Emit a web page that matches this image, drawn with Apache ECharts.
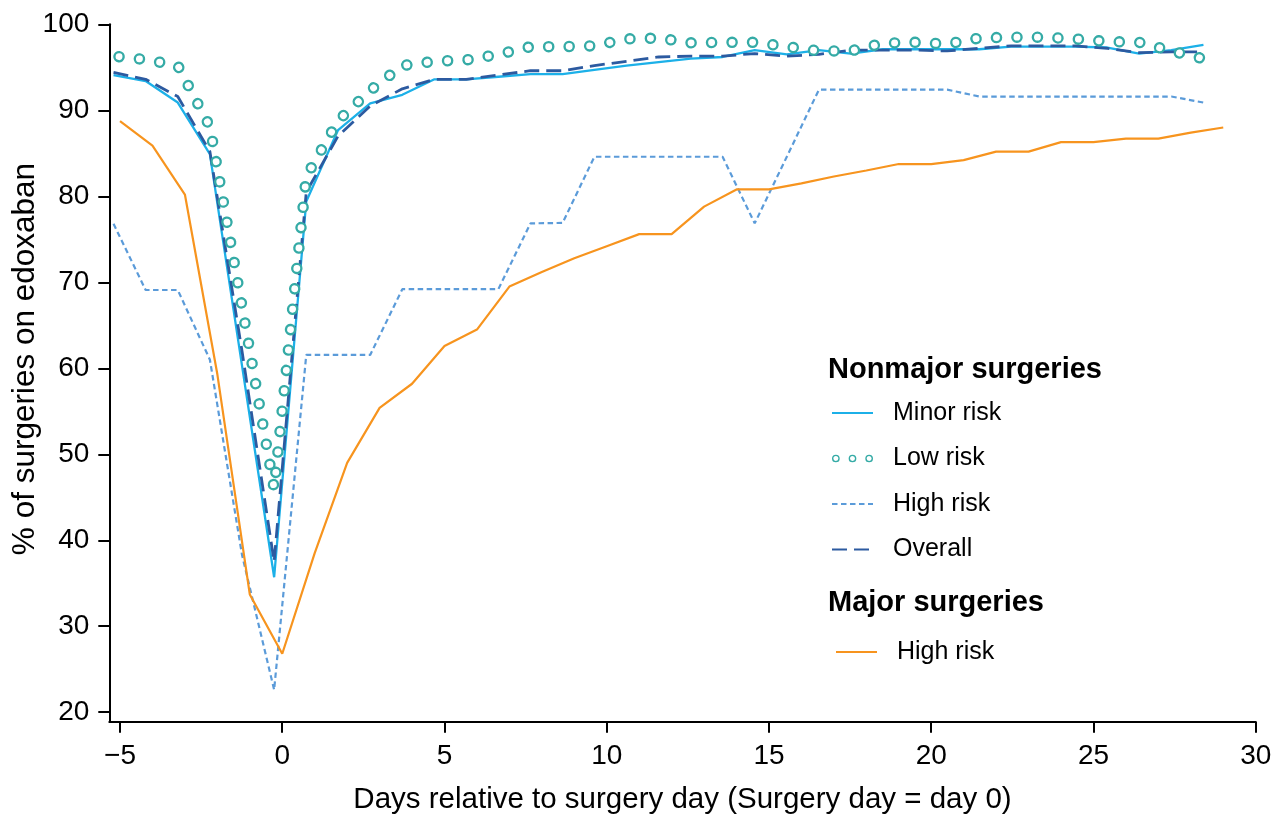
<!DOCTYPE html>
<html>
<head>
<meta charset="utf-8">
<script src="https://cdn.jsdelivr.net/npm/echarts@6/dist/echarts.min.js"></script>
<style>
  html, body { margin: 0; padding: 0; background: #fff; }
  #main { width: 1279px; height: 814px; }
</style>
</head>
<body>
<div id="main"></div>
<script>
// days for the nonmajor series (sampled slightly off whole days)
var nonmajorDays = [-5.2, -4.21, -3.22, -2.23, -1.24, -0.25, 0.74, 1.72, 2.71, 3.70, 4.69, 5.67, 6.66, 7.65, 8.64,
    9.62, 10.61, 11.60, 12.59, 13.57, 14.56, 15.55, 16.54, 17.52, 18.51, 19.50, 20.49, 21.48, 22.46, 23.45,
    24.44, 25.43, 26.41, 27.40, 28.39];
var minorRisk = [94.1, 93.4, 90.9, 84.9, 60.3, 35.7, 79.4, 87.7, 90.8, 91.8, 93.6, 93.6, 93.9, 94.2, 94.2,
    94.7, 95.2, 95.6, 96.0, 96.2, 97.0, 96.5, 97.0, 96.6, 97.1, 97.1, 97.1, 97.1, 97.4, 97.4,
    97.4, 97.3, 96.6, 97.0, 97.6];
var lowRisk = [96.3, 95.9, 95.2, 88.1, 67.2, 46.0, 82.3, 88.8, 92.3, 95.2, 95.7, 95.85, 96.5, 97.4, 97.4,
    97.5, 98.3, 98.4, 97.85, 97.9, 97.9, 97.4, 96.9, 96.9, 97.8, 97.9, 97.7, 98.4, 98.5, 98.5,
    98.3, 98.0, 97.9, 96.9, 96.0];
var highRisk = [76.8, 69.1, 69.1, 61.0, 38.3, 22.6, 61.55, 61.55, 61.55, 69.2, 69.2, 69.2, 69.2, 76.85, 76.9,
    84.6, 84.6, 84.6, 84.6, 84.6, 76.85, 84.6, 92.4, 92.4, 92.4, 92.4, 92.4, 91.6, 91.6, 91.6,
    91.6, 91.6, 91.6, 91.6, 90.9];
var overall = [94.4, 93.6, 91.6, 85.2, 62.0, 37.5, 80.5, 87.0, 90.5, 92.5, 93.6, 93.6, 94.1, 94.6, 94.6,
    95.2, 95.7, 96.2, 96.3, 96.3, 96.6, 96.3, 96.5, 97.0, 97.0, 97.0, 96.9, 97.2, 97.5, 97.5,
    97.5, 97.2, 96.7, 96.8, 96.8];

// major surgeries, whole days
var majorDays = [-5, -4, -3, -2, -1, 0, 1, 2, 3, 4, 5, 6, 7, 8, 9, 10, 11, 12, 13, 14, 15, 16, 17, 18, 19,
    20, 21, 22, 23, 24, 25, 26, 27, 28, 29];
var majorHighRisk = [88.75, 85.9, 80.2, 59.3, 33.7, 26.8, 38.5, 49.0, 55.4, 58.2, 62.6, 64.5, 69.5, 71.2, 72.8,
    74.2, 75.6, 75.6, 78.8, 80.8, 80.8, 81.5, 82.3, 83.0, 83.75, 83.75, 84.2, 85.2, 85.2, 86.3,
    86.3, 86.7, 86.7, 87.4, 88.0];

var xTicks = [-5, 0, 5, 10, 15, 20, 25, 30];
var yTicks = [20, 30, 40, 50, 60, 70, 80, 90, 100];

function pairs(xs, ys) {
    return xs.map(function (x, i) { return [x, ys[i]]; });
}

var font = 'Liberation Sans, Arial, Helvetica, sans-serif';
var ringDash = [0.1, 20.4];
// three small rings for the "Low risk" legend key
var ringsIcon = 'path://' + [3.7, 19.7, 35.7].map(function (cx) {
    var r1 = 3.7, r2 = 2.4, cy = 3.7;
    return 'M' + (cx - r1) + ',' + cy + 'A' + r1 + ',' + r1 + ' 0 1,1 ' + (cx + r1) + ',' + cy +
        'A' + r1 + ',' + r1 + ' 0 1,1 ' + (cx - r1) + ',' + cy + 'Z' +
        'M' + (cx - r2) + ',' + cy + 'A' + r2 + ',' + r2 + ' 0 1,0 ' + (cx + r2) + ',' + cy +
        'A' + r2 + ',' + r2 + ' 0 1,0 ' + (cx - r2) + ',' + cy + 'Z';
}).join('');

var legendText = { fontSize: 25, lineHeight: 28, color: '#000', fontFamily: font, padding: [0, 0, 0, 15] };

var myChart = echarts.init(document.getElementById('main'));

var option = {
    animation: false,
    backgroundColor: '#fff',
    textStyle: { fontFamily: font, color: '#000' },
    title: [
        { text: 'Nonmajor surgeries', left: 823, top: 350, padding: 5,
          textStyle: { fontSize: 29, fontWeight: 'bold', color: '#000', fontFamily: font } },
        { text: 'Major surgeries', left: 823, top: 583, padding: 5,
          textStyle: { fontSize: 29, fontWeight: 'bold', color: '#000', fontFamily: font } }
    ],
    legend: [
        {
            orient: 'vertical', left: 826, top: 394,
            itemWidth: 41, itemHeight: 14, itemGap: 17.5,
            selectedMode: false,
            itemStyle: { opacity: 0 },
            textStyle: legendText,
            data: [
                { name: 'Minor risk' },
                { name: 'Low risk', icon: ringsIcon, itemStyle: { color: '#35aba6', borderWidth: 0, opacity: 1 } },
                { name: 'High risk' },
                { name: 'Overall' }
            ]
        },
        {
            orient: 'vertical', left: 830, top: 633,
            itemWidth: 41, itemHeight: 14,
            selectedMode: false,
            itemStyle: { opacity: 0 },
            textStyle: legendText,
            formatter: function () { return 'High risk'; },
            data: ['Major high risk']
        }
    ],
    grid: { left: 109.3, right: 23.3, top: 24.3, bottom: 92.3, containLabel: false, outerBoundsMode: 'none' },
    xAxis: {
        type: 'value', min: -5.33, max: 30,
        axisLine: { onZero: false, lineStyle: { color: '#000', width: 2 } },
        axisTick: { length: 11, customValues: xTicks, lineStyle: { color: '#000', width: 2 } },
        axisLabel: {
            customValues: xTicks, fontSize: 28, color: '#000', margin: 21, fontFamily: font,
            formatter: function (v) { return v < 0 ? '\u2212' + Math.abs(v) : String(v); }
        },
        splitLine: { show: false },
        name: 'Days relative to surgery day (Surgery day = day 0)',
        nameLocation: 'middle', nameGap: 63, nameMoveOverlap: false,
        nameTextStyle: { fontSize: 29.5, color: '#000', fontFamily: font }
    },
    yAxis: {
        type: 'value', min: 18.9, max: 100,
        axisLine: { onZero: false, lineStyle: { color: '#000', width: 2 } },
        axisTick: { length: 11, customValues: yTicks, lineStyle: { color: '#000', width: 2 } },
        axisLabel: { customValues: yTicks, fontSize: 28, color: '#000', margin: 20, fontFamily: font },
        splitLine: { show: false },
        name: '% of surgeries on edoxaban',
        nameLocation: 'middle', nameGap: 68, nameMoveOverlap: false,
        nameTextStyle: { fontSize: 31.5, color: '#000', fontFamily: font, padding: [0, 0, 0, 28] }
    },
    series: [
        {
            name: 'Minor risk', type: 'line', symbol: 'none', showSymbol: false,
            data: pairs(nonmajorDays, minorRisk),
            itemStyle: { color: '#1cb0e8' },
            lineStyle: { color: '#1cb0e8', width: 2.3 }
        },
        {
            name: 'High risk', type: 'line', symbol: 'none', showSymbol: false,
            data: pairs(nonmajorDays, highRisk),
            itemStyle: { color: '#5b9bd9' },
            lineStyle: { color: '#5b9bd9', width: 2.2, type: [5.5, 3.5] }
        },
        {
            name: 'Overall', type: 'line', symbol: 'none', showSymbol: false,
            data: pairs(nonmajorDays, overall),
            itemStyle: { color: '#2c5aa0' },
            lineStyle: { color: '#2c5aa0', width: 2.8, type: [15, 7] }
        },
        {
            name: 'Major high risk', type: 'line', symbol: 'none', showSymbol: false,
            data: pairs(majorDays, majorHighRisk),
            itemStyle: { color: '#f7941e' },
            lineStyle: { color: '#f7941e', width: 2.2 }
        },
        {
            // rings drawn as a round-capped dotted line, hollowed by a white copy on top
            name: 'Low risk', type: 'line', symbol: 'none', showSymbol: false,
            data: pairs(nonmajorDays, lowRisk),
            itemStyle: { color: '#35aba6' },
            lineStyle: { color: '#35aba6', width: 11.5, type: ringDash, cap: 'round', dashOffset: 15 }
        },
        {
            name: 'lowRiskHole', type: 'line', symbol: 'none', showSymbol: false,
            data: pairs(nonmajorDays, lowRisk),
            itemStyle: { color: '#fff' },
            lineStyle: { color: '#fff', width: 6.8, type: ringDash, cap: 'round', dashOffset: 15 },
            silent: true
        }
    ]
};

myChart.setOption(option);
window.addEventListener('resize', function () {
    myChart.resize();
});
</script>
</body>
</html>
